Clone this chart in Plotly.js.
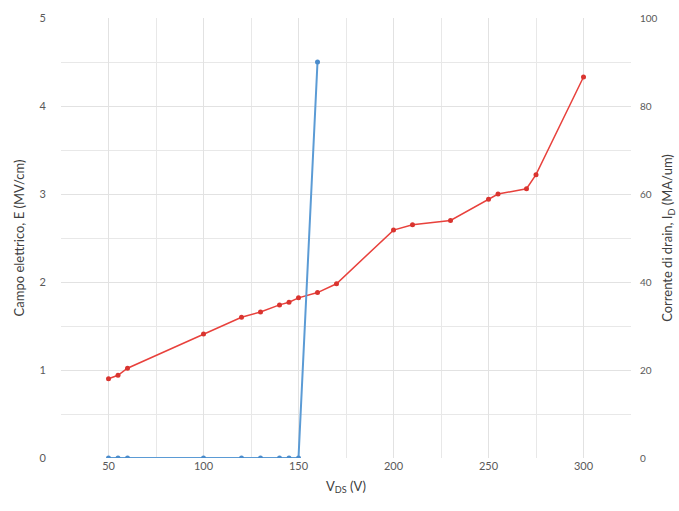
<!DOCTYPE html>
<html>
<head>
<meta charset="utf-8">
<script src="https://cdn.plot.ly/plotly-3.0.1.min.js"></script>
<style>html,body{margin:0;padding:0;background:#fff;}#chart{width:679px;height:511px;}</style>
</head>
<body>
<div id="chart"></div>
<script>
const vdsE = [50,55,60,100,120,130,140,145,150,160,170,200,210,230,250,255,270,275,300];
const campoE = [0.9,0.94,1.02,1.41,1.6,1.66,1.74,1.77,1.82,1.88,1.98,2.59,2.65,2.7,2.94,3.0,3.06,3.22,4.33];
const vdsI = [50,55,60,100,120,130,140,145,150,160];
const correnteI = [0,0,0,0,0,0,0,0,0,90];
const xTicks = [50,100,150,200,250,300];
const yTicks = [0,1,2,3,4,5];
const y2Ticks = [0,20,40,60,80,100];

const fontFam = 'Lato, "Open Sans", sans-serif';
const traces = [
  {x: vdsI, y: correnteI, yaxis: 'y2', type: 'scatter', mode: 'lines+markers',
   line: {color: '#5b9bd5', width: 2}, marker: {color: '#4a8ccc', size: 5, symbol: 'circle'}},
  {x: vdsE, y: campoE, type: 'scatter', mode: 'lines+markers',
   line: {color: '#e8413c', width: 1.5}, marker: {color: '#d9342f', size: 5, symbol: 'circle'}}
];
const layout = {
  width: 679, height: 511,
  margin: {l: 61, r: 48, t: 18, b: 53},
  showlegend: false,
  paper_bgcolor: '#fff', plot_bgcolor: '#fff',
  font: {family: fontFam, color: '#595959', size: 11},
  xaxis: {range: [25, 325], tickvals: xTicks, ticktext: xTicks.map(String),
    showgrid: true, gridcolor: '#e2e2e2', gridwidth: 1, zeroline: false,
    minor: {dtick: 25, tick0: 25, showgrid: true, gridcolor: '#e8e8e8', gridwidth: 1},
    showline: false, ticks: '', tickfont: {size: 11, color: '#595959'},
    title: {text: 'V<sub>DS</sub> (V)', font: {size: 13, color: '#404040'}, standoff: 10}},
  yaxis: {range: [0, 5], tickvals: yTicks, ticktext: yTicks.map(String),
    showgrid: true, gridcolor: '#e2e2e2', zeroline: false, showline: false, ticks: '',
    minor: {dtick: 0.5, tick0: 0, showgrid: true, gridcolor: '#e8e8e8', gridwidth: 1},
    tickfont: {size: 11, color: '#595959'}, ticklabelstandoff: 14,
    title: {text: 'Campo elettrico, E (MV/cm)', font: {size: 13, color: '#404040'}, standoff: 12}},
  yaxis2: {range: [0, 100], overlaying: 'y', side: 'right', tickvals: y2Ticks, ticktext: y2Ticks.map(String),
    showgrid: false, zeroline: false, showline: false, ticks: '',
    tickfont: {size: 10, color: '#595959'}, ticklabelstandoff: 8,
    title: {text: 'Corrente di drain, I<sub>D</sub> (MA/um)', font: {size: 13, color: '#404040'}, standoff: 6}}
};
Plotly.newPlot('chart', traces, layout, {displayModeBar: false, staticPlot: true});
</script>
</body>
</html>
